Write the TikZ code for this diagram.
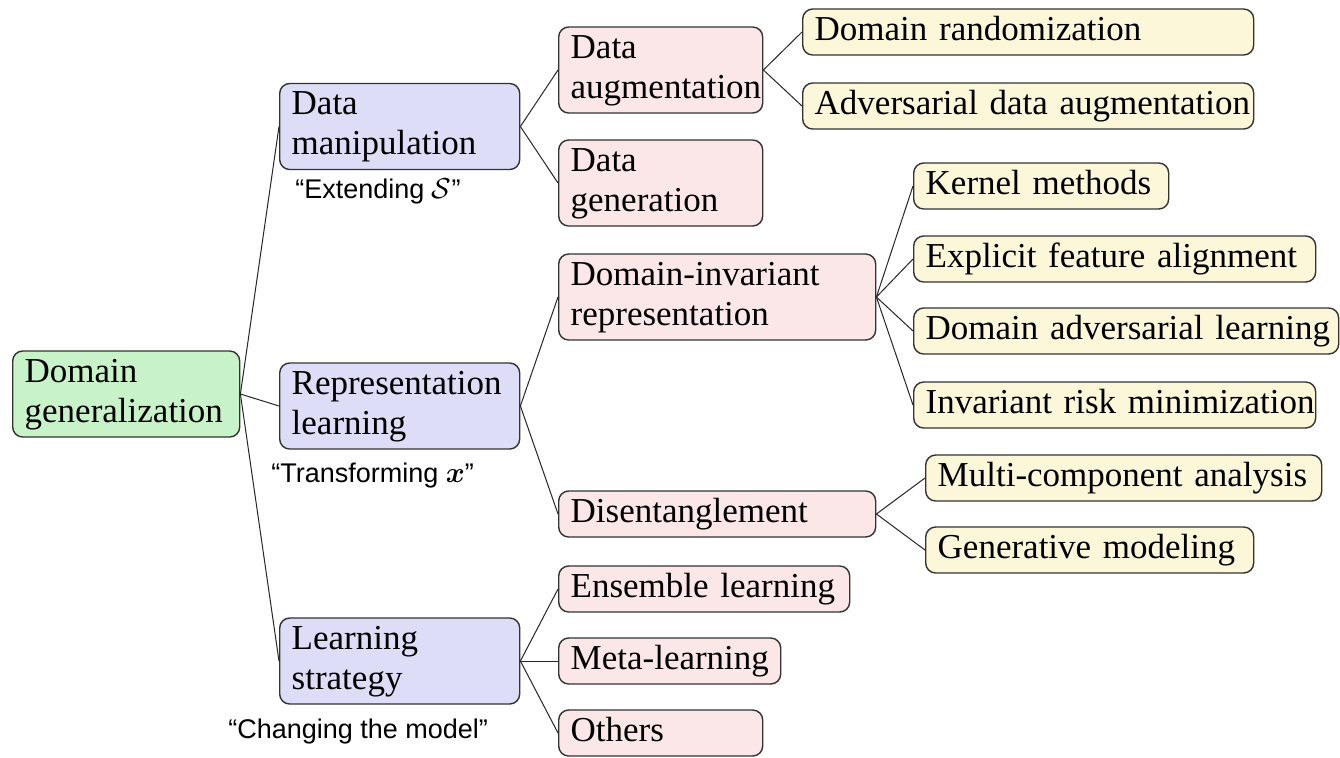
\documentclass[tikz,border=0pt]{standalone}
\usepackage{fontspec}
\usepackage{bm}
\setmainfont{Liberation Serif}
\newfontfamily\labfont{Liberation Sans}
\definecolor{rootfill}{HTML}{C8F2C8}
\definecolor{lonefill}{HTML}{DDDDF7}
\definecolor{ltwofill}{HTML}{FBE7E7}
\definecolor{lthreefill}{HTML}{FCF7D8}
\definecolor{edgecol}{HTML}{333333}
\newcommand\boxline[1]{\mbox{\strut #1}}
\begin{document}
\begin{tikzpicture}[x=0.5pt, y=-0.5pt,
  tbox/.style={draw=edgecol, line width=0.7pt, rounded corners=5pt, anchor=west,
    inner xsep=6pt, inner ysep=1.5pt, align=left, text width=#1,
    font=\fontsize{17.5}{20}\selectfont},
  rootbox/.style={tbox=#1, fill=rootfill},
  lonebox/.style={tbox=#1, fill=lonefill},
  ltwobox/.style={tbox=#1, fill=ltwofill},
  lthreebox/.style={tbox=#1, fill=lthreefill},
  conn/.style={draw=black!85, line width=0.5pt},
  lab/.style={anchor=base west, inner sep=0pt, font=\labfont\fontsize{13.5}{16}\selectfont}]
\fill[white] (0,0) rectangle (1340,757);
\useasboundingbox (0,0) rectangle (1340,757);

% root
\node[rootbox=101.5pt] (root) at (12,394) {\boxline{Domain}\\\boxline{generalization}};

% level 1
\node[lonebox=108pt] (dm) at (279,126.5) {\boxline{Data}\\\boxline{manipulation}};
\node[lonebox=108pt] (rl) at (279,406) {\boxline{Representation}\\\boxline{learning}};
\node[lonebox=108pt] (ls) at (279,661) {\boxline{Learning}\\\boxline{strategy}};

% labels
\node[lab] (lab1) at (295,198) {“Extending $\mathcal{S}$”};
\node[lab] (lab2) at (271,482) {“Transforming $\bm{x}$”};
\node[lab] (lab3) at (228,738) {“Changing the model”};

% level 2
\node[ltwobox=90pt] (da) at (558,70) {\boxline{Data}\\\boxline{augmentation}};
\node[ltwobox=90pt] (dg) at (558,183) {\boxline{Data}\\\boxline{generation}};
\node[ltwobox=146.5pt] (dir) at (558,297) {\boxline{Domain-invariant}\\\boxline{representation}};
\node[ltwobox=146.5pt] (dis) at (558,514) {\boxline{Disentanglement}};
\node[ltwobox=133.5pt] (ens) at (558,589) {\boxline{Ensemble learning}};
\node[ltwobox=99pt] (meta) at (558,661) {\boxline{Meta-learning}};
\node[ltwobox=90pt] (oth) at (558,733) {\boxline{Others}};

% level 3
\node[lthreebox=213.5pt] (dr) at (802,32) {\boxline{Domain randomization}};
\node[lthreebox=213.5pt] (ada) at (802,106) {\boxline{Adversarial data augmentation}};
\node[lthreebox=115.5pt] (km) at (913,186) {\boxline{Kernel methods}};
\node[lthreebox=189pt] (efa) at (913,259) {\boxline{Explicit feature alignment}};
\node[lthreebox=200.5pt] (dal) at (913,331) {\boxline{Domain adversarial learning}};
\node[lthreebox=189pt] (irm) at (913,405) {\boxline{Invariant risk minimization}};
\node[lthreebox=186pt] (mca) at (925,478) {\boxline{Multi-component analysis}};
\node[lthreebox=152pt] (gm) at (925,550) {\boxline{Generative modeling}};

% connectors
\foreach \c in {dm,rl,ls} \draw[conn] (root.east) -- (\c.west);
\foreach \c in {da,dg} \draw[conn] (dm.east) -- (\c.west);
\foreach \c in {dir,dis} \draw[conn] (rl.east) -- (\c.west);
\foreach \c in {ens,meta,oth} \draw[conn] (ls.east) -- (\c.west);
\foreach \c in {dr,ada} \draw[conn] (da.east) -- (\c.west);
\foreach \c in {km,efa,dal,irm} \draw[conn] (dir.east) -- (\c.west);
\foreach \c in {mca,gm} \draw[conn] (dis.east) -- (\c.west);
\end{tikzpicture}
\end{document}
